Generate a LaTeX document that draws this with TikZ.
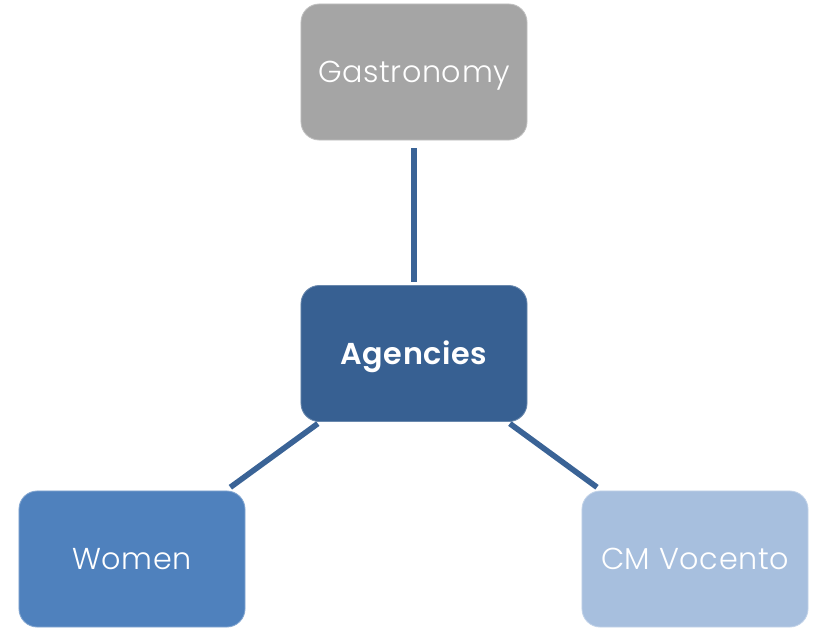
\documentclass[tikz,border=0pt]{standalone}
\usepackage{fontspec}
\setmainfont{Poppins}[UprightFont=* Light,BoldFont=* SemiBold,LetterSpace=2]
\usetikzlibrary{positioning}
\definecolor{gastrogray}{HTML}{A5A5A5}
\definecolor{agencyblue}{HTML}{376092}
\definecolor{womenblue}{HTML}{4F81BD}
\definecolor{vocentoblue}{HTML}{A7BFDE}
\definecolor{linkblue}{HTML}{3A6396}

\begin{document}
\begin{tikzpicture}[
  x=0.025cm,y=-0.025cm,
  font=\fontsize{21.5}{26}\selectfont,
  unit/.style={rounded corners=13pt,minimum width=5.65cm,minimum height=3.4cm,inner sep=0pt,text height=15pt,text depth=0pt,text=white,line width=.6pt},
  hub/.style={unit,fill=agencyblue,draw=agencyblue!75!white,font=\fontsize{21.5}{26}\selectfont\bfseries},
  link/.style={draw=linkblue,line width=4pt}
]
\useasboundingbox (0,0) rectangle (815,627);

\node[hub] (agencies) at (414,353.5) {Agencies};
\node[unit,fill=gastrogray,draw=gastrogray!70!white] (gastro) at (414,72) {Gastronomy};
\node[unit,fill=womenblue,draw=womenblue!70!white] (women) at (132,559) {Women};
\node[unit,fill=vocentoblue,draw=vocentoblue!70!white] (vocento) at (695,559) {CM Vocento};

\draw[link,shorten <=5.5pt,shorten >=2pt] (gastro) -- (agencies);
\draw[link,shorten <=2pt,shorten >=4pt] (agencies) -- (women);
\draw[link,shorten <=2pt,shorten >=4pt] (agencies) -- (vocento);
\end{tikzpicture}
\end{document}
